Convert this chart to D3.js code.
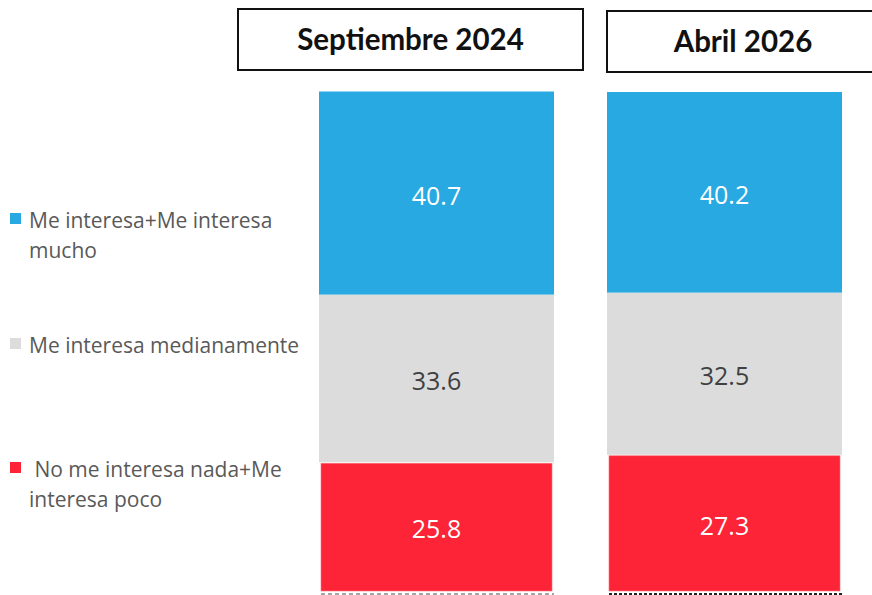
<!DOCTYPE html>
<head>
  <meta charset="utf-8">
  <script src='https://d3js.org/d3.v7.min.js'></script>
  <style>
    body {
      margin: 0;
      background: #fff;
      font-family: Lato, "Open Sans", Arial, sans-serif;
    }
  </style>
</head>

<body>
<div id='vis'></div>

<script>
// data
const periods = ['Septiembre 2024', 'Abril 2026'];
const series = ['alto', 'medio', 'bajo'];
const seriesLabels = [
  ['Me interesa+Me interesa', 'mucho'],
  ['Me interesa medianamente'],
  [' No me interesa nada+Me', 'interesa poco']
];
const alto = [40.7, 40.2];
const medio = [33.6, 32.5];
const bajo = [25.8, 27.3];

const colours = ['#29A9E1', '#DCDCDC', '#FC2436'];
const labelColours = ['#ffffff', '#404040', '#ffffff'];

const width = 872;
const height = 595;

const svg = d3.select('#vis')
  .append('svg')
  .attr('width', width)
  .attr('height', height);

const x = d3.scaleBand()
  .domain(periods)
  .range([319, 842])
  .paddingInner(0.184)
  .paddingOuter(0);

const y = d3.scaleLinear()
  .domain([0, 100])
  .range([591, 92]);

// stack bottom-up: bajo, medio, alto
const rows = periods.map((p, i) => ({ period: p, alto: alto[i], medio: medio[i], bajo: bajo[i] }));
const stack = d3.stack().keys(['bajo', 'medio', 'alto'])(rows);

stack.forEach(layer => {
  const k = series.indexOf(layer.key);
  const inset = layer.key === 'bajo' ? 2 : 0;
  const g = svg.append('g');

  g.selectAll('rect')
    .data(layer)
    .enter()
    .append('rect')
    .attr('x', d => x(d.data.period) + inset)
    .attr('width', x.bandwidth() - inset * 2)
    .attr('y', d => y(d[1]) + (inset ? 1 : 0))
    .attr('height', d => y(d[0]) - y(d[1]) - (inset ? 1 : 0))
    .attr('fill', colours[k])
    .attr('stroke', inset ? '#ff6f7a' : 'none')
    .attr('stroke-width', inset ? 0.6 : 0);

  g.selectAll('text')
    .data(layer)
    .enter()
    .append('text')
    .attr('x', d => x(d.data.period) + x.bandwidth() / 2)
    .attr('y', d => (y(d[0]) + y(d[1])) / 2 + 5)
    .attr('text-anchor', 'middle')
    .attr('dominant-baseline', 'middle')
    .attr('font-family', '"Open Sans", Arial, sans-serif')
    .attr('font-size', 25)
    .attr('fill', labelColours[k])
    .text(d => (d[1] - d[0]).toFixed(1));
});

// baseline marks under bars
svg.append('line')
  .attr('x1', x(periods[0]) + 2).attr('x2', x(periods[0]) + x.bandwidth())
  .attr('y1', 594).attr('y2', 594)
  .attr('stroke', '#888').attr('stroke-width', 1.5)
  .attr('stroke-dasharray', '4,3');

svg.append('line')
  .attr('x1', x(periods[1]) + 2).attr('x2', x(periods[1]) + x.bandwidth())
  .attr('y1', 594).attr('y2', 594)
  .attr('stroke', '#222').attr('stroke-width', 2)
  .attr('stroke-dasharray', '3,2');

// title boxes
const boxes = [
  { x: 238, y: 9, w: 345, h: 61 },
  { x: 607, y: 11, w: 275, h: 61 }
];
boxes.forEach((b, i) => {
  svg.append('rect')
    .attr('x', b.x).attr('y', b.y)
    .attr('width', b.w).attr('height', b.h)
    .attr('fill', '#fff')
    .attr('stroke', '#111')
    .attr('stroke-width', 2);
  svg.append('text')
    .attr('x', b.x + (i === 0 ? b.w / 2 : 136))
    .attr('y', b.y + b.h / 2 + 3)
    .attr('text-anchor', 'middle')
    .attr('dominant-baseline', 'middle')
    .attr('font-family', 'Lato, sans-serif')
    .attr('font-weight', 'bold')
    .attr('font-size', 29.5)
    .attr('fill', '#111')
    .text(periods[i]);
});

// legend
const legendY = [219, 344, 468];
series.forEach((s, k) => {
  const g = svg.append('g');
  g.append('rect')
    .attr('x', 10).attr('y', legendY[k] - 6)
    .attr('width', 11).attr('height', 11)
    .attr('fill', colours[k]);
  seriesLabels[k].forEach((line, j) => {
    g.append('text')
      .attr('x', 29)
      .attr('y', legendY[k] + 3 + j * 30)
      .attr('dominant-baseline', 'middle')
      .attr('font-family', '"Open Sans", Arial, sans-serif')
      .attr('font-size', 21)
      .attr('fill', '#595959')
      .attr('xml:space', 'preserve')
      .style('white-space', 'pre')
      .text(line);
  });
});
</script>
</body>
